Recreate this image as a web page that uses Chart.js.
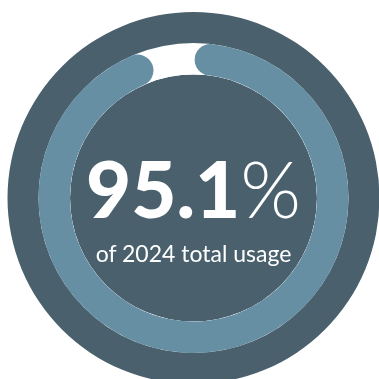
<!DOCTYPE html>
<html>
<head>
<meta charset="utf-8">
<script src="https://cdn.jsdelivr.net/npm/chart.js@4.4.1/dist/chart.umd.min.js"></script>
<style>
  html, body { margin: 0; padding: 0; background: #ffffff; width: 379px; height: 379px; overflow: hidden; }
  #wrap { position: relative; width: 379px; height: 379px; overflow: hidden; }
  canvas { position: absolute; left: 0; top: 0; }
  .big { position: absolute; left: 0; width: 387px; top: 149px; text-align: center; font-family: Lato, sans-serif; font-size: 78px; line-height: 78px; color: #ffffff; white-space: nowrap; }
  .big .num { font-weight: 900; }
  .big .pct { font-weight: 300; }
  .sub { position: absolute; left: 0; width: 387px; top: 242px; text-align: center; font-family: Lato, sans-serif; font-size: 23px; line-height: 22px; color: #ffffff; white-space: nowrap; }
</style>
</head>
<body>
<div id="wrap">
  <canvas id="base" width="387" height="396"></canvas>
  <canvas id="ring" width="387" height="396"></canvas>
  <div class="big"><span class="num">95.1</span><span class="pct">%</span></div>
  <div class="sub">of 2024 total usage</div>
</div>
<script>
const categories = ['2024 usage', 'Remaining'];
const usageValues = [95.1, 4.9];
const trackValues = [100];

const DARK = '#4a606d';
const BLUE = '#668fa3';
const WHITE = '#ffffff';

const common = {
  responsive: false,
  maintainAspectRatio: false,
  animation: false,
  events: [],
  layout: { padding: 0 },
  plugins: { legend: { display: false }, tooltip: { enabled: false }, title: { display: false } }
};

// Background disc + white track
new Chart(document.getElementById('base'), {
  type: 'doughnut',
  data: {
    labels: ['Track'],
    datasets: [
      { data: trackValues, backgroundColor: [DARK], borderWidth: 0, weight: 31 },
      { data: trackValues, backgroundColor: [WHITE], borderWidth: 0, weight: 31.5 },
      { data: trackValues, backgroundColor: [DARK], borderWidth: 0, weight: 123.5 }
    ]
  },
  options: Object.assign({}, common, { radius: 186, cutout: 0 })
});

// Usage arc
new Chart(document.getElementById('ring'), {
  type: 'doughnut',
  data: {
    labels: categories,
    datasets: [{
      data: usageValues,
      backgroundColor: [BLUE, 'rgba(0,0,0,0)'],
      borderWidth: 0,
      borderRadius: [16, 0]
    }]
  },
  options: Object.assign({}, common, { radius: 155, cutout: '79.7%', rotation: 0.5 })
});
</script>
</body>
</html>
